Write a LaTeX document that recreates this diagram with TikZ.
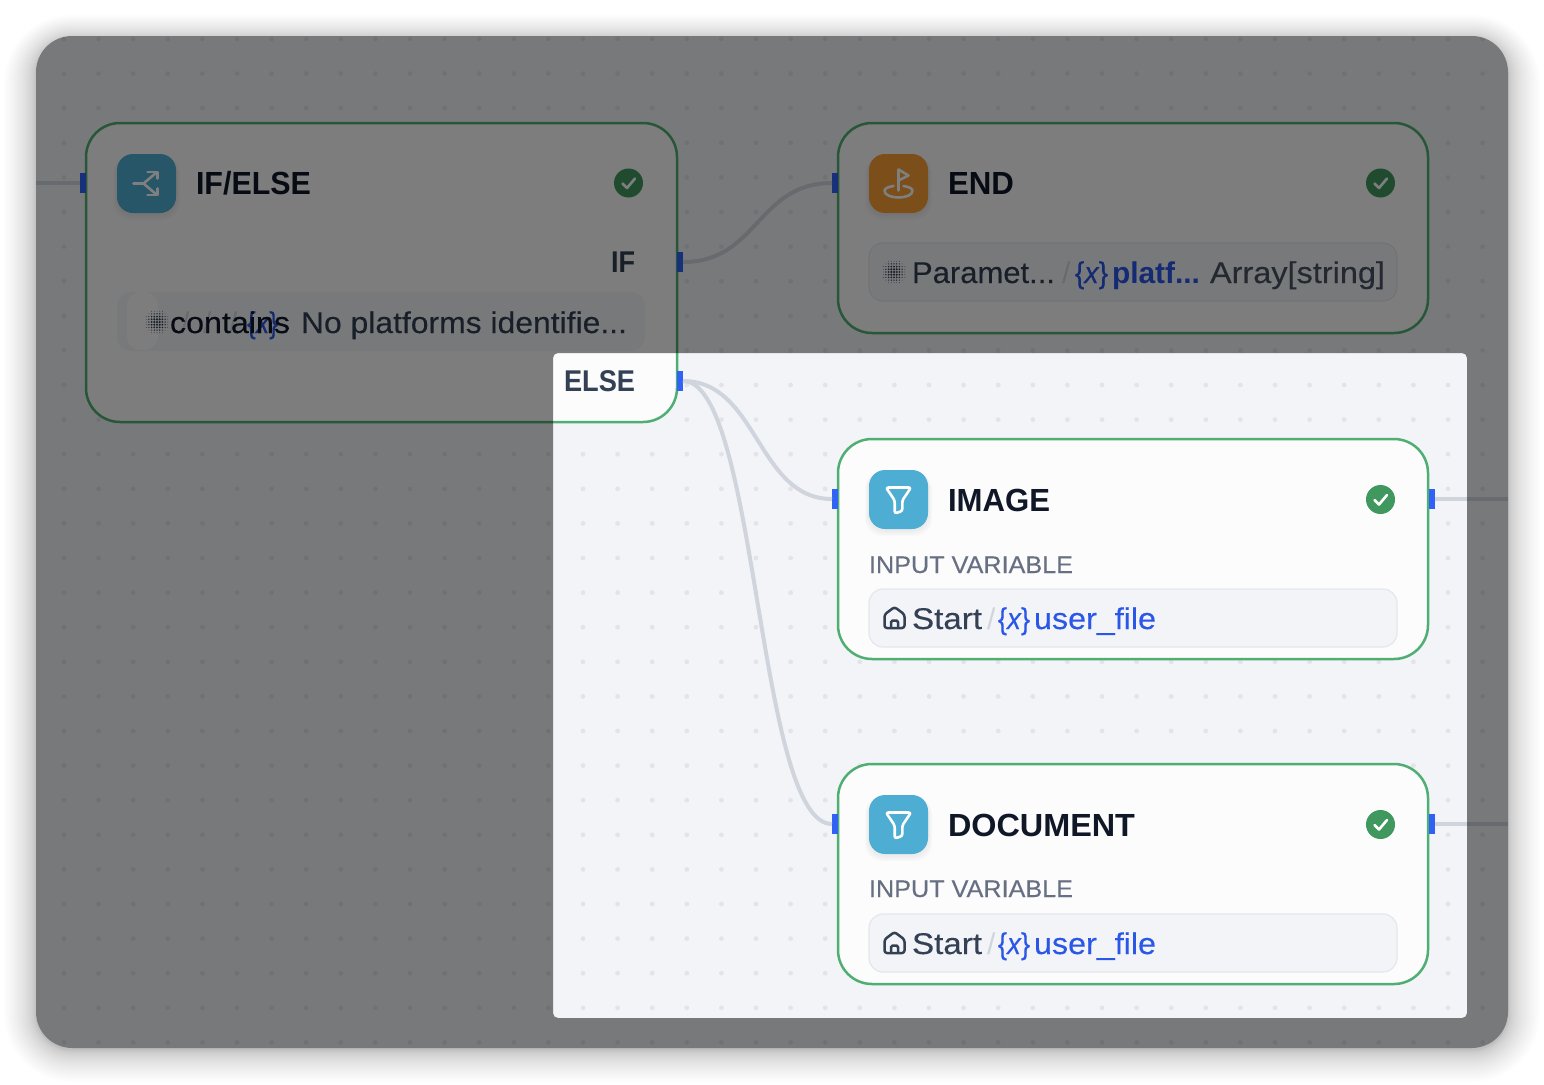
\documentclass[tikz,border=0pt]{standalone}
\usepackage{fontspec}
\usepackage{graphicx}
\setmainfont{Liberation Sans}
\newfontfamily\medfam[FakeBold=0.25]{Liberation Sans}
\definecolor{canvas}{HTML}{F2F4F7}
\definecolor{dotc}{HTML}{E2E4E9}
\definecolor{cardc}{HTML}{FCFCFD}
\definecolor{okgreen}{HTML}{4FAE72}
\definecolor{checkc}{HTML}{41985F}
\definecolor{portc}{HTML}{2F62F5}
\definecolor{edgec}{HTML}{D0D5DD}
\definecolor{iconblue}{HTML}{4DADD2}
\definecolor{iconorange}{HTML}{F79E36}
\definecolor{inkdark}{HTML}{101828}
\definecolor{inkmid}{HTML}{344054}
\definecolor{inklabel}{HTML}{676F83}
\definecolor{inkval}{HTML}{495464}
\definecolor{linkblue}{HTML}{2A57E8}
\definecolor{pillline}{HTML}{E4E7EC}
\newcommand\fitw[2]{\resizebox{#1pt}{\height}{#2}}
\newcommand\ftitle{\fontsize{32}{36}\selectfont\bfseries}
\newcommand\frow{\fontsize{30}{34}\selectfont\medfam}
\newcommand\fplain{\fontsize{30}{34}\selectfont}
\newcommand\flabel{\fontsize{24}{28}\selectfont\medfam}
\newcommand\varmark{\{{\fontspec{Liberation Sans}[FakeBold=0.25]\itshape x}\}}
\tikzset{
  x=1pt,y=-1pt,
  txt/.style={anchor=base west,inner sep=0pt,outer sep=0pt},
  cardbox/.style={draw=okgreen,line width=2.5pt,fill=cardc,rounded corners=34pt,anchor=north west,inner sep=0pt,outer sep=0pt},
  pillbox/.style={draw=pillline,line width=1.2pt,fill=canvas,rounded corners=14pt,anchor=north west,inner sep=0pt,outer sep=0pt,minimum width=528pt,minimum height=58pt},
  iconbox/.style={rounded corners=16pt,anchor=north west,inner sep=0pt,outer sep=0pt,minimum width=59pt,minimum height=59pt},
  portbox/.style={fill=portc,anchor=north west,inner sep=0pt,outer sep=0pt,minimum width=6pt,minimum height=20pt},
  okdot/.style={circle,fill=checkc,inner sep=0pt,outer sep=0pt,minimum size=29pt},
  wire/.style={draw=edgec,line width=4pt},
  glyph/.style={draw=white,line width=2.6pt,line cap=round,line join=round},
  tick/.pic={\draw[white,line width=2.6pt,line cap=round,line join=round] (-6,0.5)--(-1.5,5)--(6.5,-4.5);},
  funnel/.pic={\draw[glyph,rounded corners=2.2pt] (-12.5,-12)--(12.5,-12)--(3.8,1)--(3.8,11.5)--(-3.8,14)--(-3.8,1)--cycle;},
  branch/.pic={\draw[glyph] (-13,0)--(-3,0)--(10,-11) (-3,0)--(10,11);
    \draw[glyph] (1,-11.5)--(11,-11.5)--(11,-5) (1,11.5)--(11,11.5)--(11,5);},
  flag/.pic={\draw[glyph] (0,7)--(0,-14)--(10,-8)--(0,-3);
    \draw[glyph] (-5,2.5) .. controls (-11,3.5) and (-14,5) .. (-14,7.5) .. controls (-14,11.5) and (-7,14) .. (0,14) .. controls (7,14) and (14,11.5) .. (14,7.5) .. controls (14,5) and (11,3.5) .. (5,2.5);},
  home/.pic={\draw[inkmid,line width=2.5pt,line join=round,rounded corners=2.5pt] (-10,10)--(-10,-3.5)--(0,-11)--(10,-3.5)--(10,10)--cycle;
    \draw[inkmid,line width=2.5pt,line join=round,rounded corners=1.5pt] (-3.5,10)--(-3.5,2.5)--(3.5,2.5)--(3.5,10);},
  halftone/.pic={
    \foreach \i in {-4,...,4}{\foreach \j in {-4,...,4}{
      \pgfmathsetmacro{\qq}{\i*\i+\j*\j}
      \pgfmathsetmacro{\rr}{max(0.4,1.25-0.05*\qq)}
      \pgfmathtruncatemacro{\keep}{\qq<21 ? 1 : 0}
      \ifnum\keep=1 \fill[inkmid] ({\i*2.7},{\j*2.7}) circle[radius=\rr]; \fi
    }}},
}
\begin{document}
\begin{tikzpicture}
\useasboundingbox (0,0) rectangle (1544,1084);
\fill[white] (0,0) rectangle (1544,1084);
% outer soft shadow
\foreach \k in {32,31,...,1}{
  \pgfmathsetmacro{\d}{32*pow(\k/32,1.7)}
  \fill[black,opacity=0.0095,rounded corners=36pt+\d*1pt] (36-\d,36-0.75*\d+3) rectangle (1508+\d,1048+\d+2);
}
% canvas and dotted grid
\begin{scope}
  \clip[rounded corners=36pt] (36,36) rectangle (1508,1048);
  \fill[canvas] (36,36) rectangle (1508,1048);
  \foreach \i in {0,...,42}{\foreach \j in {0,...,29}{
    \fill[dotc] (64+34.6*\i,39+34.6*\j) circle[radius=2.4];
  }}
\end{scope}

% cards
\node[cardbox,minimum width=591pt,minimum height=299pt] (ifcard) at (86,123) {};
\node[cardbox,minimum width=590pt,minimum height=210pt] (endcard) at (838,123) {};
\node[cardbox,minimum width=590pt,minimum height=220pt] (imgcard) at (838,439) {};
\node[cardbox,minimum width=590pt,minimum height=220pt] (doccard) at (838,764) {};

% ports
\node[portbox] (ifin) at (80,173) {};
\node[portbox] (ifout) at (677,252) {};
\node[portbox] (elseout) at (677,371) {};
\node[portbox] (endin) at (832,173) {};
\node[portbox] (imgin) at (832,489) {};
\node[portbox] (imgout) at (1429,489) {};
\node[portbox] (docin) at (832,814) {};
\node[portbox] (docout) at (1429,814) {};

% connectors
\coordinate (leftfree) at (36,183);
\coordinate (imgfree) at (1508,499);
\coordinate (docfree) at (1508,824);
\draw[wire] (leftfree) -- (ifin.west);
\draw[wire] (ifout.east) .. controls +(75,0) and +(-75,0) .. (endin.west);
\draw[wire] (elseout.east) .. controls +(75,0) and +(-75,0) .. (imgin.west);
\draw[wire] (elseout.east) .. controls +(75,0) and +(-75,0) .. (docin.west);
\draw[wire] (imgout.east) -- (imgfree);
\draw[wire] (docout.east) -- (docfree);

% icon squares
\foreach \nm/\px/\py/\col in {ificon/117/154/iconblue,endicon/869/154/iconorange,imgicon/869/470/iconblue,docicon/869/795/iconblue}{
  \foreach \s in {1,2,3,4}{
    \fill[black,opacity=0.014,rounded corners=17pt] (\px-\s,\py+2) rectangle (\px+59+\s,\py+59+1.5*\s+1);
  }
  \node[iconbox,fill=\col] (\nm) at (\px,\py) {};
}
\pic at (ificon.center) {branch};
\pic at (endicon.center) {flag};
\pic at (imgicon.center) {funnel};
\pic at (docicon.center) {funnel};

% status checks
\node[okdot] (ifok) at (628.5,183) {};
\node[okdot] (endok) at (1380.5,183) {};
\node[okdot] (imgok) at (1380.5,499.5) {};
\node[okdot] (docok) at (1380.5,824.5) {};
\pic at (ifok.center) {tick};
\pic at (endok.center) {tick};
\pic at (imgok.center) {tick};
\pic at (docok.center) {tick};

% titles
\node[txt,text=inkdark] (iftitle) at (196,194) {\ftitle\fitw{115}{IF/ELSE}};
\node[txt,text=inkdark] (endtitle) at (948,194) {\ftitle\fitw{66}{END}};
\node[txt,text=inkdark] (imgtitle) at (948,511) {\ftitle\fitw{102}{IMAGE}};
\node[txt,text=inkdark] (doctitle) at (948,836) {\ftitle\fitw{187}{DOCUMENT}};
\node[txt,text=inkmid] (iflabel) at (611,272) {\fplain\bfseries\fitw{24}{IF}};
\node[txt,text=inkmid] (elselabel) at (564,391) {\fplain\bfseries\fitw{71}{ELSE}};
\node[txt,text=inklabel] (imglabel) at (869,573) {\flabel\fitw{204}{INPUT VARIABLE}};
\node[txt,text=inklabel] (doclabel) at (869,897) {\flabel\fitw{204}{INPUT VARIABLE}};

% condition row in IF/ELSE
\node[anchor=north west,inner sep=0pt,outer sep=0pt,fill=canvas,rounded corners=14pt,minimum width=528pt,minimum height=59pt] (condpill) at (117,292) {};
\node[anchor=north west,inner sep=0pt,outer sep=0pt,fill=cardc,rounded corners=14pt,minimum width=31pt,minimum height=58pt] (condchip) at (127,292) {};
\pic at (157,322) {halftone};
\node[txt,text=edgec] (condsla) at (181,333) {\fplain /};
\node[txt,text=edgec] (condslb) at (203,333) {\fplain /};
\node[txt,text=edgec] (condslc) at (229,333) {\fplain /};
\node[txt,text=linkblue] (condvar) at (247,333) {\frow\fitw{31}{\varmark}};
\node[txt,text=inkdark] (condop) at (170,333) {\frow\fitw{120}{contains}};
\node[txt,text=inkmid] (condval) at (301,333) {\frow\fitw{326}{No platforms identifie...}};

% END row
\node[pillbox] (endpill) at (869,243) {};
\pic at (894,272) {halftone};
\node[txt,text=inkmid] (endsrc) at (912,283) {\frow\fitw{143}{Paramet...}};
\node[txt,text=edgec] (endsl) at (1062,283) {\fplain /};
\node[txt,text=linkblue] (endx) at (1075,283) {\frow\fitw{33}{\varmark}};
\node[txt,text=linkblue] (endvar) at (1112,283) {\fontsize{30}{34}\selectfont\bfseries\fitw{88}{platf...}};
\node[txt,text=inkval] (endtype) at (1210,283) {\frow\fitw{175}{Array[string]}};

% IMAGE row
\node[pillbox] (imgpill) at (869,589) {};
\pic at (894.5,618) {home};
\node[txt,text=inkmid] (imgsrc) at (912,629) {\frow\fitw{70}{Start}};
\node[txt,text=edgec] (imgsl) at (987,629) {\fplain /};
\node[txt,text=linkblue] (imgx) at (998,629) {\frow\fitw{32}{\varmark}};
\node[txt,text=linkblue] (imgvar) at (1034,629) {\frow\fitw{122}{user\_file}};

% DOCUMENT row
\node[pillbox] (docpill) at (869,914) {};
\pic at (894.5,943) {home};
\node[txt,text=inkmid] (docsrc) at (912,954) {\frow\fitw{70}{Start}};
\node[txt,text=edgec] (docsl) at (987,954) {\fplain /};
\node[txt,text=linkblue] (docx) at (998,954) {\frow\fitw{32}{\varmark}};
\node[txt,text=linkblue] (docvar) at (1034,954) {\frow\fitw{122}{user\_file}};

% dimming veil with spotlight hole
\fill[black,opacity=0.5,even odd rule]
  [rounded corners=36pt] (36,36) rectangle (1508,1048)
  [rounded corners=5pt] (553,353) rectangle (1467,1018);
\end{tikzpicture}
\end{document}
